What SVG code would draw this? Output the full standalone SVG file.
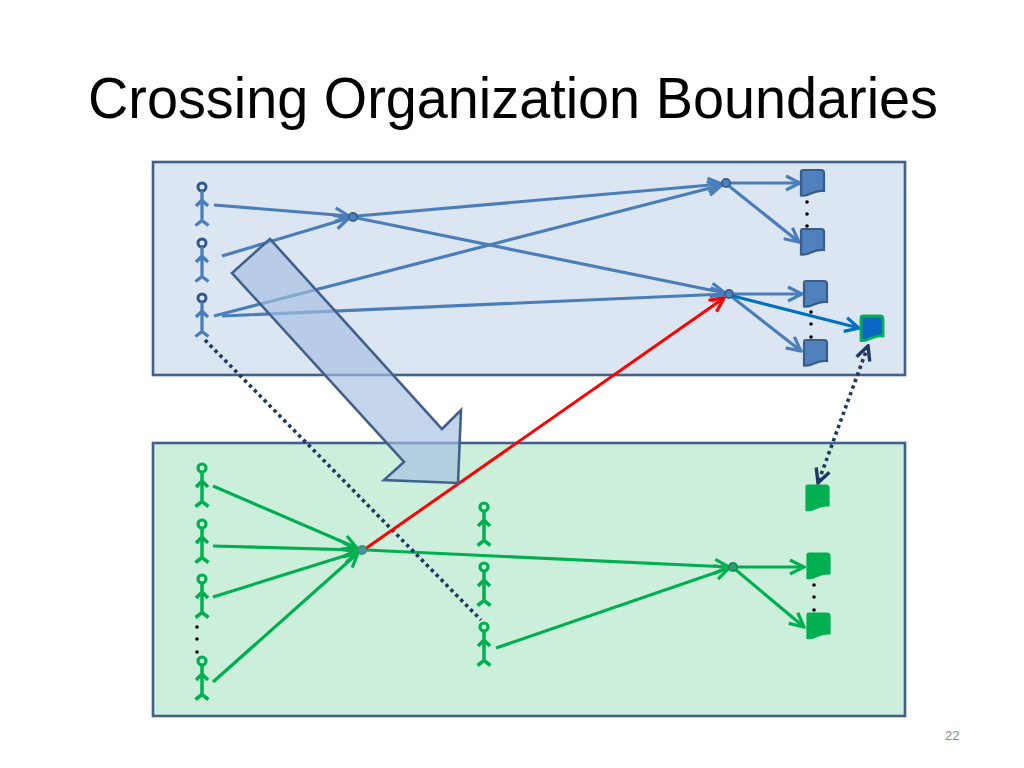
<svg xmlns="http://www.w3.org/2000/svg" xmlns:xlink="http://www.w3.org/1999/xlink" width="1024" height="768" viewBox="0 0 1024 768">
<style>
.title{font-family:"Liberation Sans",Arial,sans-serif;font-size:58px;fill:#000}
.pg{font-family:"Liberation Sans",Arial,sans-serif;font-size:13px;fill:#8c8c8c}
.box{stroke:#41608c;stroke-width:2.6}
.lb{stroke:#4a7ebb;stroke-width:3.2;fill:none;marker-end:url(#ab)}
.lg{stroke:#00b050;stroke-width:3.2;fill:none;marker-end:url(#ag)}
.dot{stroke:#1f3864;stroke-width:3.6;stroke-dasharray:3.4 3.6;fill:none}
.docb{fill:#4f81bd;stroke:#385d8a;stroke-width:2.2}
.docg{fill:#00b050;stroke:#00b050;stroke-width:1.2}
.ndb{fill:#4f81bd;stroke:#385d8a;stroke-width:1.8}
</style>
<defs>
<marker id="ab" markerUnits="userSpaceOnUse" viewBox="0 0 18 18" markerWidth="18" markerHeight="18" refX="16" refY="9" orient="auto"><path d="M2,2 L16,9 L2,16" fill="none" stroke="#4a7ebb" stroke-width="3.2"/></marker>
<marker id="ag" markerUnits="userSpaceOnUse" viewBox="0 0 18 18" markerWidth="18" markerHeight="18" refX="16" refY="9" orient="auto"><path d="M2,2 L16,9 L2,16" fill="none" stroke="#00b050" stroke-width="3.2"/></marker>
<marker id="ar" markerUnits="userSpaceOnUse" viewBox="0 0 18 18" markerWidth="18" markerHeight="18" refX="16" refY="9" orient="auto"><path d="M2,2 L16,9 L2,16" fill="none" stroke="#ff0000" stroke-width="3.2"/></marker>
<marker id="ad" markerUnits="userSpaceOnUse" viewBox="0 0 18 18" markerWidth="18" markerHeight="18" refX="16" refY="9" orient="auto"><path d="M2,2 L16,9 L2,16" fill="none" stroke="#0070c0" stroke-width="3.2"/></marker>
<marker id="an" markerUnits="userSpaceOnUse" viewBox="0 0 18 18" markerWidth="18" markerHeight="18" refX="16" refY="9" orient="auto-start-reverse"><path d="M2,2 L16,9 L2,16" fill="none" stroke="#1f3864" stroke-width="3.4"/></marker>
<g id="figB"><circle cx="0" cy="0" r="4" fill="none" stroke="#31588a" stroke-width="3"/><path d="M0,4 V34 M-6,19 L0,13 L6,19 M-6.5,38.5 L0,33.5 L6.5,38.5" fill="none" stroke="#4a7ebb" stroke-width="3.3"/></g>
<g id="figG"><circle cx="0" cy="0" r="4" fill="none" stroke="#00b050" stroke-width="3.2"/><path d="M0,4 V34 M-6,19 L0,13 L6,19 M-6.5,38.5 L0,33.5 L6.5,38.5" fill="none" stroke="#00b050" stroke-width="3.5"/></g>
<path id="doc" d="M0,2 Q0,0 2,0 H20 Q23,0 23,3 V21 C19,20.5 14,21.5 10,23.5 C6,25.5 3,26 0,25.5 Z"/>
</defs>

<rect width="1024" height="768" fill="#ffffff"/>
<text class="title" x="88" y="118" textLength="850" lengthAdjust="spacingAndGlyphs">Crossing Organization Boundaries</text>
<text class="pg" x="945" y="740">22</text>

<g id="org-top"><rect class="box" x="153" y="162" width="752" height="213" fill="#dce6f2"/></g>
<g id="org-bottom"><rect class="box" x="153" y="443" width="752" height="273" fill="#ccefdc"/></g>

<g id="connectors">
  <line class="lb" x1="214" y1="205" x2="349" y2="216"/>
  <line class="lb" x1="222" y1="256" x2="349" y2="218"/>
  <line class="lb" x1="357" y1="216" x2="722" y2="184"/>
  <line class="lb" x1="357" y1="218" x2="725" y2="293"/>
  <line class="lb" x1="214" y1="316" x2="722" y2="185"/>
  <line class="lb" x1="222" y1="316" x2="725" y2="294"/>
  <line class="lb" x1="730" y1="183" x2="800" y2="183"/>
  <line class="lb" x1="729" y1="186" x2="799" y2="242"/>
  <line class="lb" x1="733" y1="294" x2="802" y2="294"/>
  <line class="lb" x1="732" y1="297" x2="801" y2="351"/>
  <line x1="733" y1="296" x2="859" y2="328" stroke="#0070c0" stroke-width="3.2" marker-end="url(#ad)"/>
  <line class="lg" x1="213" y1="486" x2="357" y2="548"/>
  <line class="lg" x1="213" y1="546" x2="357" y2="550"/>
  <line class="lg" x1="213" y1="597" x2="357" y2="552"/>
  <line class="lg" x1="213" y1="682" x2="358" y2="553"/>
  <line class="lg" x1="366" y1="550" x2="729" y2="567"/>
  <line class="lg" x1="496" y1="648" x2="729" y2="568"/>
  <line class="lg" x1="737" y1="567" x2="804" y2="567"/>
  <line class="lg" x1="736" y1="570" x2="804" y2="627"/>
  <line x1="205" y1="340" x2="481" y2="620" class="dot"/>
  <line x1="365" y1="549" x2="724" y2="298" stroke="#ff0000" stroke-width="3" marker-end="url(#ar)"/>
  <line x1="868" y1="346" x2="818" y2="483" class="dot" marker-start="url(#an)" marker-end="url(#an)"/>
  <path id="transfer-arrow" d="M270,239 L232,273 L404,462 L384,480 L458,483 L461,410 L442,429 Z" fill="#a4bfe0" fill-opacity="0.65" stroke="#41608c" stroke-width="2.6" stroke-linejoin="miter"/>
</g>

<g id="top-figure-1"><use xlink:href="#figB" x="202" y="187"/></g>
<g id="top-figure-2"><use xlink:href="#figB" x="202" y="243"/></g>
<g id="top-figure-3"><use xlink:href="#figB" x="202" y="298"/></g>

<g id="top-node-a"><circle class="ndb" cx="353" cy="217" r="4.2"/></g>
<g id="top-node-b"><circle class="ndb" cx="726" cy="183" r="4.2"/></g>
<g id="top-node-c"><circle class="ndb" cx="729" cy="294" r="4.2"/></g>

<g id="top-doc-1"><use xlink:href="#doc" class="docb" x="801" y="170"/></g>
<g id="top-doc-2"><use xlink:href="#doc" class="docb" x="801" y="229"/></g>
<g id="top-doc-3"><use xlink:href="#doc" class="docb" x="804" y="281"/></g>
<g id="top-doc-4"><use xlink:href="#doc" class="docb" x="804" y="340"/></g>
<g id="top-shared-doc"><path d="M0,2 Q0,0 2,0 H19 Q22,0 22,3 V20 C18,19.5 13,20.5 9,22.5 C5.5,24.5 3,25 0,24.5 Z" transform="translate(861,316)" fill="#0a66c2" stroke="#00b050" stroke-width="2.8"/></g>

<g id="top-dots" fill="#000">
  <circle cx="807" cy="202" r="1.8"/><circle cx="807" cy="214" r="1.8"/><circle cx="807" cy="226" r="1.8"/>
  <circle cx="811" cy="312" r="1.8"/><circle cx="811" cy="324" r="1.8"/><circle cx="811" cy="337" r="1.8"/>
</g>

<g id="bottom-figure-1"><use xlink:href="#figG" x="202" y="468"/></g>
<g id="bottom-figure-2"><use xlink:href="#figG" x="202" y="524"/></g>
<g id="bottom-figure-3"><use xlink:href="#figG" x="202" y="579"/></g>
<g id="bottom-figure-4"><use xlink:href="#figG" x="202" y="661"/></g>
<g id="bottom-mid-figure-1"><use xlink:href="#figG" x="484" y="507"/></g>
<g id="bottom-mid-figure-2"><use xlink:href="#figG" x="484" y="567"/></g>
<g id="bottom-mid-figure-3"><use xlink:href="#figG" x="484" y="627"/></g>

<g id="bottom-node-e"><circle cx="362" cy="550" r="4.2" fill="#4f8fa8" stroke="#2f9a6a" stroke-width="1.8"/></g>
<g id="bottom-node-d"><circle cx="733" cy="567" r="4.2" fill="#2f9a7a" stroke="#1e8a5a" stroke-width="1.8"/></g>

<g id="bottom-doc-1"><use xlink:href="#doc" class="docg" x="806" y="485"/></g>
<g id="bottom-doc-2"><use xlink:href="#doc" class="docg" x="807" y="553"/></g>
<g id="bottom-doc-3"><use xlink:href="#doc" class="docg" x="807" y="613"/></g>

<g id="bottom-dots" fill="#000">
  <circle cx="814" cy="585" r="1.8"/><circle cx="814" cy="597" r="1.8"/><circle cx="814" cy="610" r="1.8"/>
  <circle cx="197" cy="627" r="1.8"/><circle cx="197" cy="639" r="1.8"/><circle cx="197" cy="652" r="1.8"/>
</g>
</svg>
